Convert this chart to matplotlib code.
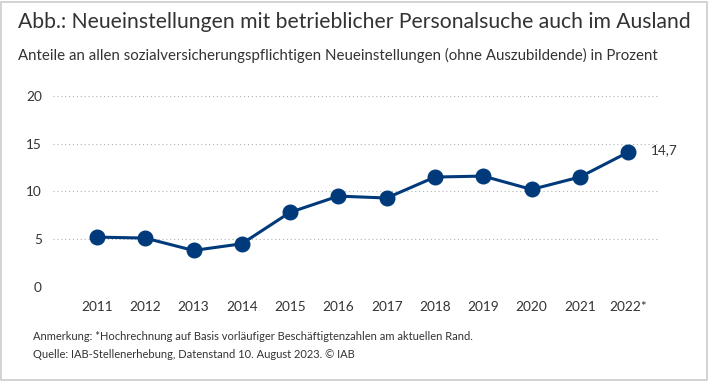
import numpy as np
import matplotlib
matplotlib.use('Agg')
import matplotlib.pyplot as plt
from matplotlib.patches import Rectangle

years = ['2011', '2012', '2013', '2014', '2015', '2016', '2017', '2018', '2019', '2020', '2021', '2022*']
anteil = [5.2, 5.1, 3.8, 4.5, 7.8, 9.5, 9.3, 11.5, 11.6, 10.2, 11.5, 14.1]
last_label = '14,7'
yticks = [0, 5, 10, 15, 20]

blue = '#003a7a'
grey = '#333333'
plt.rcParams['font.family'] = ['Lato', 'DejaVu Sans']

fig = plt.figure(figsize=(7.10, 3.82), dpi=100)
fig.patches.append(Rectangle((0.002, 0.005), 0.994, 0.99, transform=fig.transFigure,
                             fill=False, edgecolor='#cccccc', linewidth=1.2))

ax = fig.add_axes([0.0746, 0.2495, 0.855, 0.4992])
x = np.arange(len(years))
ax.plot(x, anteil, color=blue, linewidth=2.2, marker='o', markersize=10.5, clip_on=False, zorder=3)
ax.text(x[-1] + 0.48, anteil[-1] + 0.25, last_label, color=grey, fontsize=9.8, va='center')

ax.set_xlim(-0.91, len(years) - 1 + 0.66)
ax.set_ylim(0, 20)
ax.set_yticks(yticks)
ax.set_xticks(x)
ax.set_xticklabels(years)
ax.grid(axis='y', linestyle=(0, (1, 2.5)), color='#b0b0b0', linewidth=0.8)
ax.set_axisbelow(True)
for s in ax.spines.values():
    s.set_visible(False)
ax.tick_params(length=0, colors=grey, labelsize=9.8)
ax.tick_params(axis='y', pad=8)
ax.tick_params(axis='x', pad=10)

fig.text(0.025, 0.942, 'Abb.: Neueinstellungen mit betrieblicher Personalsuche auch im Ausland',
         fontsize=15.2, color=grey, va='center')
fig.text(0.025, 0.855, 'Anteile an allen sozialversicherungspflichtigen Neueinstellungen (ohne Auszubildende) in Prozent',
         fontsize=10.8, color=grey, va='center')
fig.text(0.046, 0.118, 'Anmerkung: *Hochrechnung auf Basis vorläufiger Beschäftigtenzahlen am aktuellen Rand.',
         fontsize=8, color=grey, va='center')
fig.text(0.046, 0.073, 'Quelle: IAB-Stellenerhebung, Datenstand 10. August 2023. © IAB',
         fontsize=8, color=grey, va='center')

plt.savefig('out.png', dpi=100)
plt.close()
